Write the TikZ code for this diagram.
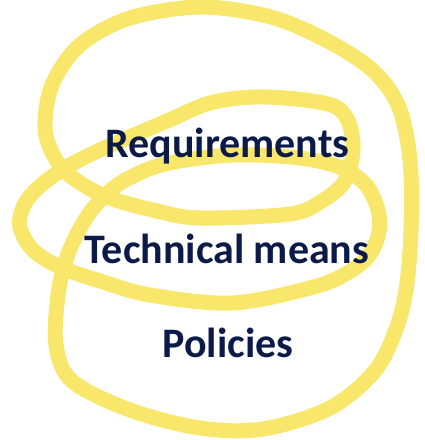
\documentclass[tikz,border=0pt]{standalone}
\usepackage{fontspec}
\setmainfont{Carlito}
\definecolor{marker}{HTML}{F9E76B}
\definecolor{ink}{HTML}{0C1A4A}
\begin{document}
\begin{tikzpicture}[x=1pt,y=-1pt,
  scribble/.style={draw=marker,line width=15pt,line cap=round,line join=round},
  label/.style={text=ink,font=\bfseries\fontsize{42}{48}\selectfont,anchor=base,inner sep=0pt}]
\useasboundingbox (0,0) rectangle (424,440);
% one continuous marker stroke forming three stacked loops
\draw[scribble] plot[smooth cycle,tension=0.55] coordinates {
  (56,345) (58,295) (66,260) (78,232) (95,206) (122,182) (165,164) (233,155)
  (300,158) (342,168) (366,185) (378,210) (379,232) (370,254) (352,270)
  (317,286) (233,303) (150,295) (100,281) (60,267) (33,250) (20,227)
  (24,205) (40,186) (65,168) (100,150) (167,121) (210,103) (255,97)
  (305,100) (336,107) (349,123) (353,150) (345,181) (322,201) (290,214)
  (200,218) (157,211) (107,197) (73,178) (55,158) (45,128) (52,85)
  (80,45) (130,18) (200,7) (267,16) (320,37) (370,68) (398,105)
  (410,160) (411,230) (406,290) (395,332) (374,372) (330,408)
  (263,429) (200,428) (130,410) (72,381)};
\node[label] (req) at (227.5,157) {Requirements};
\node[label] (tech) at (227,263) {Technical means};
\node[label] (pol) at (228,357) {Policies};
\end{tikzpicture}
\end{document}
